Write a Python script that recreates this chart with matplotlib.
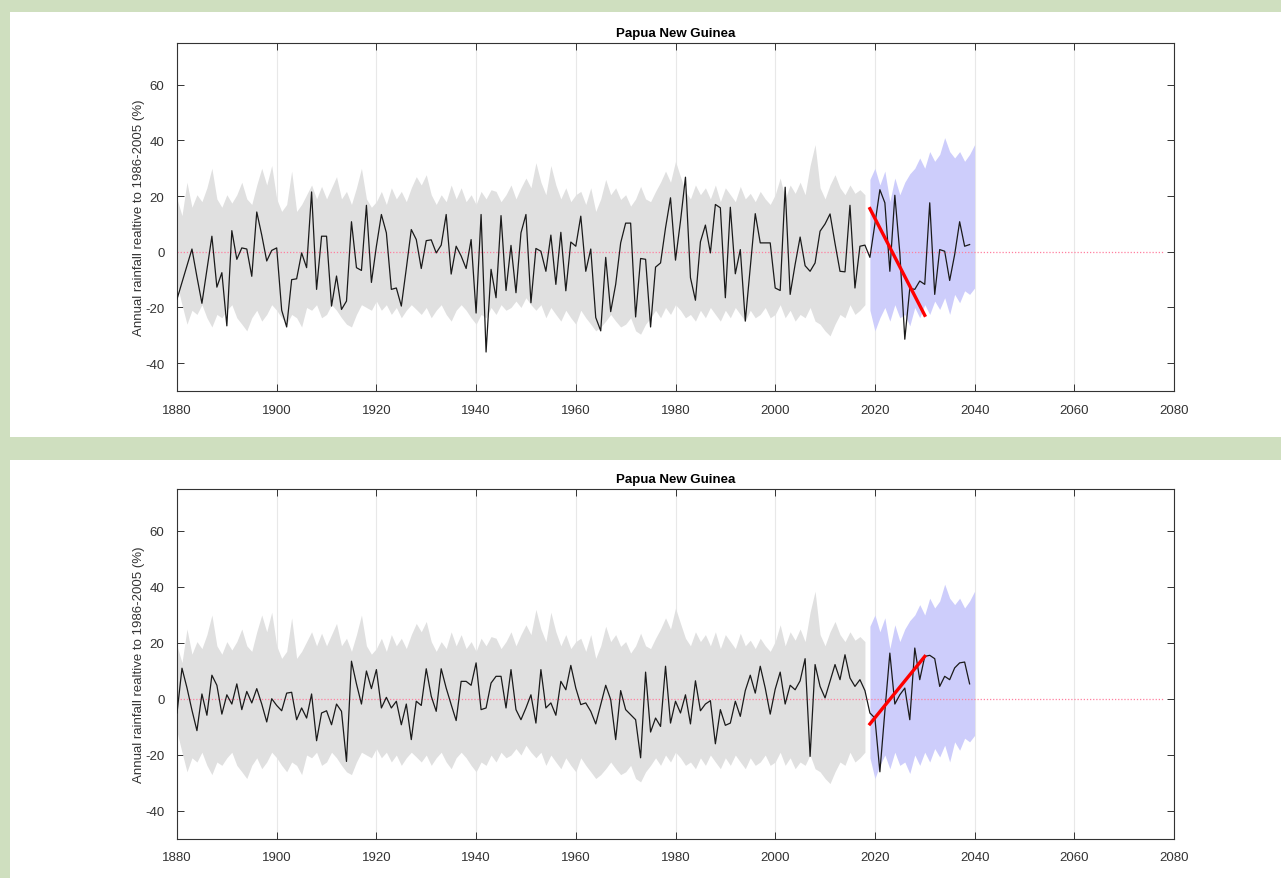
import numpy as np
import matplotlib
matplotlib.use("Agg")
import matplotlib.pyplot as plt
from matplotlib.patches import Rectangle

plt.rcParams['font.family'] = ['Liberation Sans', 'DejaVu Sans']
plt.rcParams['axes.unicode_minus'] = False

# observed / modelled series, one value per year 1880-2039
years = np.arange(1880, 2040)

rain_top = [
    -17, -11, -5, 1, -9, -18.5, -6.5, 5.6, -12.7, -7.5,
    -26.6, 7.6, -2.7, 1.4, 1, -8.8, 14.3, 6, -3.3, 0.5,
    1.4, -21, -27, -10, -9.7, -0.4, -5.7, 21.5, -13.5, 5.6,
    5.6, -19.5, -8.7, -20.7, -17.7, 10.8, -5.7, -6.7, 16.7, -11,
    2, 13.4, 6.8, -13.5, -13, -19.5, -6, 8, 4.4, -6,
    4, 4.3, -0.4, 2.4, 13.4, -8, 2, -1.5, -6, 4.4,
    -22, 13.4, -36, -6.3, -16.5, 13, -13.9, 2.3, -14.7, 6.8,
    13.4, -18.3, 1.2, 0.2, -7, 6, -11.7, 7, -14, 3.5,
    2, 12.8, -7, 1, -23.6, -28.4, -2, -21.5, -11.7, 3.2,
    10.3, 10.3, -23.4, -2.4, -2.7, -27, -5.5, -4, 8.6, 19.4,
    -3, 11, 26.8, -9.3, -17.4, 3.6, 9.6, -0.4, 17, 15.8,
    -16.5, 16, -7.9, 0.8, -24.9, -5.7, 13.7, 3.2, 3.2, 3.2,
    -13, -13.9, 23.2, -15.3, -4.5, 5.3, -5, -7, -4, 7.4,
    10, 13.6, 3, -7, -7.2, 16.7, -13, 2, 2.4, -2,
    10, 22.3, 17.6, -7, 20.3, -0.4, -31.4, -13.1, -13.5, -10.5,
    -11.7, 17.6, -15.3, 0.8, 0.2, -10.3, -1, 10.8, 2, 2.6,
]

rain_bottom = [
    -5, 11, 4, -4, -11.3, 1.8, -5.8, 8.5, 4.9, -5.4,
    1.5, -1.8, 5.4, -3.8, 2.7, -1.4, 3.7, -1.8, -8.2, 0.1,
    -2.3, -4.2, 2.1, 2.4, -7.4, -3.2, -6.8, 1.8, -14.9, -5,
    -4.2, -9.2, -1.8, -4.4, -22.3, 13.5, 5.4, -1.8, 10, 3.7,
    10.5, -3.2, 0.6, -3.2, -0.8, -9.2, -1.8, -14.5, -0.8, -2.3,
    10.8, 1, -4.4, 10.8, 3.9, -2, -7.7, 6.3, 6.3, 4.9,
    12.9, -3.8, -3.2, 5.7, 8.1, 8.1, -3.2, 10.5, -3.8, -7.4,
    -3.2, 1.5, -8.6, 10.5, -3.2, -1.4, -5.8, 6.3, 3.3, 12,
    3.9, -2, -1.4, -4.4, -8.9, -2, 4.9, -0.2, -14.5, 3,
    -3.8, -5.6, -7.4, -21, 9.6, -11.8, -6.8, -9.8, 11.7, -8.6,
    -0.8, -5, 1.5, -8.9, 6.5, -4.2, -1.8, -0.6, -16, -3.8,
    -9.4, -8.6, -0.8, -6.2, 3, 8.5, 2.1, 11.7, 3.9, -5.4,
    3.5, 9.6, -1.8, 4.9, 3.3, 6.5, 14.4, -20.5, 12.3, 4.5,
    0.4, 6.3, 12.3, 6.9, 15.8, 7.5, 4.5, 6.9, 3, -5,
    -6.8, -26, -4.4, 16.4, -1.8, 1.5, 3.9, -7.4, 18.2, 6.9,
    15.2, 15.6, 14.4, 4.5, 8.1, 6.9, 11.1, 12.9, 13.2, 5.4,
]

# historical ensemble range 1880-2018 (same in both panels)
hist_years = np.arange(1880, 2019)
hist_hi = [
    19, 13, 25, 16, 20.5, 18, 23, 30, 19, 16, 20.5, 17.5, 20.5, 25, 19, 17, 24, 30, 24, 31,
    19, 14.5, 17, 29, 14.5, 17, 20.5, 24, 19, 23.5, 19, 23, 27, 19, 21.7, 17, 23, 30, 19, 16, 18,
    21.7, 17, 23, 19, 21.7, 18, 23, 27, 24, 27.7, 20.5, 17, 20.5, 18, 24, 19, 23, 18, 20.5,
    17, 21.7, 19, 22.3, 21.7, 18, 20.5, 24, 19, 23, 26.5, 23, 32, 25, 20.5, 31, 24, 19, 23, 18, 20.5,
    21.7, 17, 23, 14.5, 19, 26, 20.5, 23, 18.8, 20.5, 16.4, 19, 23.5, 19, 18, 21.7, 25, 29, 25, 32.5,
    27, 21.7, 19, 24, 20.5, 23, 19, 24, 18, 23, 20.5, 18, 23.5, 19, 21, 18, 21.7, 19, 17, 20.5,
    26.5, 19, 24, 21, 25, 20.5, 31, 38.5, 23, 19, 24, 27.7, 23, 20.5, 24, 21, 22.3, 20.5,
]
hist_lo = [
    -11.7, -19, -26, -21, -22.5, -19, -23.7, -27, -22.5, -23.7, -21, -19, -23.7, -26, -28.4,
    -23.7, -21, -24.9, -22.5, -19, -21, -23.7, -26, -22.5, -23.7, -27, -20, -21, -19, -23.7,
    -22.5, -19, -21, -23.7, -26, -27, -22.5, -19, -20, -21, -17.7,
    -21, -19, -22.5, -20, -23.7, -21, -19, -20.7, -22.5, -20, -23.7, -21, -19, -22.5, -24.9,
    -21, -19, -21, -23.7, -26, -22.5, -23.7, -20, -22.5, -19, -21, -20, -17.7, -20, -16.5,
    -19, -21, -19, -23.7, -20, -22.5, -24.9, -21, -23.7, -26,
    -21, -23.7, -26, -28.4, -27, -24.9, -22.5, -24.9, -27, -26, -23.7, -28.4, -29.6, -26,
    -23.7, -21, -23.7, -20, -22.5, -19, -21, -23.7, -22.5, -24.9, -21, -23.7, -20, -22.5,
    -24.9, -21, -23.7, -20, -22.5, -24.9, -21, -23.7, -22.5, -20, -23.7, -22.5,
    -19, -23.7, -21, -24.9, -22.5, -23.7, -20, -24.9, -26, -28.4, -30.2, -26, -22.5, -23.7,
    -19, -22.5, -21, -19,
]

# projection range 2019-2040
proj_years = np.arange(2019, 2041)
proj_hi = [26, 30, 24, 29, 18, 26.5, 20.5, 25, 28, 30, 33.7, 30, 36, 32.5, 35, 41, 36, 33.7, 36, 32.5, 35, 38.5]
proj_lo = [-21, -28.4, -23.7, -20, -24.9, -19, -23.7, -22.5, -26.6, -20, -23.7, -19, -22.5, -17.7,
           -20.7, -16.5, -22.5, -15.3, -18.3, -14, -15.3, -13]

# red trend lines (start/end year and value)
trend_years = [2019, 2030]
trend_top = [15.5, -22.8]
trend_bottom = [-8.9, 15.2]

zero_x = [1880, 2078]
xticks = list(range(1880, 2081, 20))
yticks = [-40, -20, 0, 20, 40, 60]

title = "Papua New Guinea"
ylabel = "Annual rainfall realtive to 1986-2005 (%)"

W, H = 1281, 879
fig = plt.figure(figsize=(W / 100, H / 100), dpi=100)
fig.patch.set_facecolor("#cfdfbf")

# white panels
fig.add_artist(Rectangle((10 / W, 1 - 438 / H), 1, 425 / H, transform=fig.transFigure,
                         facecolor="white", edgecolor="none", zorder=0))
fig.add_artist(Rectangle((10 / W, 0), 1, 418 / H, transform=fig.transFigure,
                         facecolor="white", edgecolor="none", zorder=0))


def draw(ax, series, trend):
    ax.fill_between(hist_years, hist_lo, hist_hi, color="#e0e0e0", lw=0, zorder=1)
    ax.fill_between(proj_years, proj_lo, proj_hi, color="#cdcdfb", lw=0, zorder=1)
    ax.plot(zero_x, [0, 0], color="#ff7f9f", lw=0.9, ls=(0, (1, 1.5)), zorder=2)
    ax.plot(years, series, color="#1a1a1a", lw=0.9, zorder=3)
    ax.plot(trend_years, trend, color="red", lw=2.4, zorder=4)

    ax.set_xlim(1880, 2080)
    ax.set_ylim(-50, 75)
    ax.set_xticks(xticks)
    ax.set_yticks(yticks)
    ax.grid(axis="x", color="#e8e8e8", lw=0.8)
    ax.set_axisbelow(True)
    ax.tick_params(direction="in", top=True, right=True, length=5, width=0.7,
                   colors="#333333", labelsize=9.5)
    ax.tick_params(axis="x", pad=9)
    ax.tick_params(axis="y", pad=9)
    for s in ax.spines.values():
        s.set_color("#333333")
        s.set_linewidth(0.8)
    ax.set_title(title, fontsize=9.5, fontweight="bold", pad=5)
    ax.set_ylabel(ylabel, fontsize=9.5, color="#333333", labelpad=0)
    ax.set_facecolor("white")


ax1 = fig.add_axes([177 / W, 1 - 392 / H, 997 / W, 348 / H])
draw(ax1, rain_top, trend_top)

ax2 = fig.add_axes([177 / W, 1 - 840 / H, 997 / W, 350 / H])
draw(ax2, rain_bottom, trend_bottom)

fig.savefig("out.png", dpi=100, facecolor=fig.get_facecolor())
